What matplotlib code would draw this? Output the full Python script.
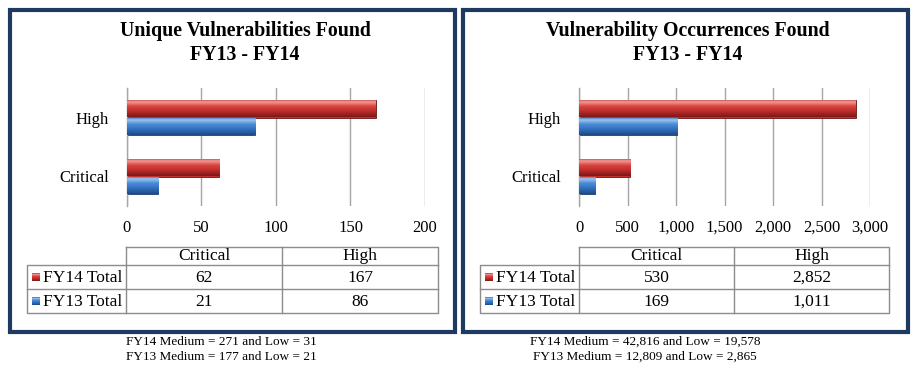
import numpy as np
import matplotlib
matplotlib.use("Agg")
import matplotlib.pyplot as plt
from matplotlib.patches import Rectangle
from matplotlib.colors import to_rgb

plt.rcParams['font.family'] = ['Liberation Serif', 'DejaVu Serif']

categories = ['Critical', 'High']
series = ['FY14 Total', 'FY13 Total']

unique_fy14 = [62, 167]
unique_fy13 = [21, 86]
occ_fy14 = [530, 2852]
occ_fy13 = [169, 1011]

titles = ['Unique Vulnerabilities Found\nFY13 - FY14',
          'Vulnerability Occurrences Found\nFY13 - FY14']
notes = [['FY14 Medium = 271 and Low = 31', 'FY13 Medium = 177 and Low = 21'],
         ['FY14 Medium = 42,816 and Low = 19,578', 'FY13 Medium = 12,809 and Low = 2,865']]
xticks = [[0, 50, 100, 150, 200], [0, 500, 1000, 1500, 2000, 2500, 3000]]

RED = ['#7e1717', '#c0302c', '#d94440', '#f29a97', '#b83330']
BLUE = ['#1d4a86', '#3473c2', '#4a8ad6', '#9cc6f2', '#3166b0']


def gradient_img(stops):
    # bottom -> top
    pos = [0.0, 0.35, 0.6, 0.85, 1.0]
    t = np.linspace(0, 1, 64)
    rgb = np.array([to_rgb(c) for c in stops])
    img = np.stack([np.interp(t, pos, rgb[:, k]) for k in range(3)], axis=1)
    return img.reshape(64, 1, 3)


def shade(ax, bars, stops):
    img = gradient_img(stops)
    for b in bars:
        x0, y0, w, h = b.get_x(), b.get_y(), b.get_width(), b.get_height()
        im = ax.imshow(img, extent=[x0, x0 + w, y0, y0 + h], origin='lower',
                       aspect='auto', zorder=3, interpolation='bilinear')
        im.set_clip_path(b)


def bar_panel(rect, fy14, fy13, ticks, fmt):
    ax = fig.add_axes(rect)
    y = np.arange(len(categories))
    h = 0.29
    r = ax.barh(y + h / 2, fy14, height=h, color=RED[1], edgecolor='#6e1414', linewidth=0.6, zorder=2)
    b = ax.barh(y - h / 2, fy13, height=h, color=BLUE[1], edgecolor='#1b3f70', linewidth=0.6, zorder=2)
    shade(ax, r, RED)
    shade(ax, b, BLUE)
    ax.set_xlim(ticks[0], ticks[-1])
    ax.set_ylim(-0.5, 1.5)
    ax.set_xticks(ticks)
    ax.set_xticklabels([fmt(t) for t in ticks], fontsize=12)
    ax.set_yticks(y)
    ax.set_yticklabels(categories, fontsize=12)
    ax.tick_params(length=0, pad=10, axis='x')
    ax.tick_params(length=0, pad=13, axis='y')
    ax.grid(axis='x', color='#a6a6a6', linewidth=1.0, zorder=0)
    ax.set_axisbelow(True)
    for s in ['top', 'bottom', 'right']:
        ax.spines[s].set_visible(False)
    ax.spines['left'].set_color('#a6a6a6')
    ax.spines['left'].set_linewidth(1.0)
    return ax


def table(ov, cols, top, rows_h, fy14, fy13, fmt):
    x0, x1, x2, x3 = cols
    y0 = top
    y1, y2, y3 = y0 + rows_h[0], y0 + rows_h[0] + rows_h[1], y0 + sum(rows_h)
    lc = '#8c8c8c'
    lw = 1.0
    ov.plot([x1, x3, x3, x0, x0, x3], [y0, y0, y3, y3, y1, y1], color=lc, lw=lw)
    ov.plot([x1, x1], [y0, y3], color=lc, lw=lw)
    ov.plot([x2, x2], [y0, y3], color=lc, lw=lw)
    ov.plot([x0, x3], [y2, y2], color=lc, lw=lw)
    fs = 12.5
    for i, c in enumerate(categories):
        cx = (cols[i + 1] + cols[i + 2]) / 2
        ov.text(cx, (y0 + y1) / 2 + 0.5, c, ha='center', va='center', fontsize=fs)
    for (ya, yb), name, vals, stops in [((y1, y2), series[0], fy14, RED),
                                         ((y2, y3), series[1], fy13, BLUE)]:
        cy = (ya + yb) / 2 + 0.5
        sq = 8
        ov.imshow(gradient_img(stops), extent=[x0 + 5, x0 + 5 + sq, cy + sq / 2, cy - sq / 2],
                  aspect='auto', origin='lower', zorder=3)
        ov.text(x0 + 16, cy, name, ha='left', va='center', fontsize=fs)
        for i, v in enumerate(vals):
            cx = (cols[i + 1] + cols[i + 2]) / 2
            ov.text(cx, cy, fmt(v), ha='center', va='center', fontsize=fs)


fig = plt.figure(figsize=(9.16, 3.70), dpi=100)
W, H = 916, 370

ov = fig.add_axes([0, 0, 1, 1], zorder=-1)
ov.set_xlim(0, W)
ov.set_ylim(H, 0)
ov.axis('off')

border = '#1f3a60'
ov.add_patch(Rectangle((9.5, 9.5), 445, 322, fill=False, edgecolor=border, lw=3))
ov.add_patch(Rectangle((462.5, 9.5), 445, 322, fill=False, edgecolor=border, lw=3))

ov.text(245, 43, titles[0], ha='center', va='center', fontsize=14.3, fontweight='bold', linespacing=1.3)
ov.text(688, 43, titles[1], ha='center', va='center', fontsize=14.3, fontweight='bold', linespacing=1.3)

plain = lambda v: f'{v:g}'
comma = lambda v: f'{v:,.0f}'


def px_rect(l, r, t, b):
    return [l / W, 1 - b / H, (r - l) / W, (b - t) / H]


bar_panel(px_rect(127, 425, 88, 206), unique_fy14, unique_fy13, xticks[0], plain)
bar_panel(px_rect(579, 870, 88, 206), occ_fy14, occ_fy13, xticks[1], comma)

table(ov, [27, 126, 282, 438], 247, [18, 24, 24], unique_fy14, unique_fy13, plain)
table(ov, [480, 579, 734, 889], 247, [18, 24, 24], occ_fy14, occ_fy13, comma)

ov.set_xlim(0, W)
ov.set_ylim(H, 0)

for cx, lines in [(221, notes[0]), (645, notes[1])]:
    ov.text(cx, 342, lines[0], ha='center', va='center', fontsize=9.5)
    ov.text(cx, 357, lines[1], ha='center', va='center', fontsize=9.5)

fig.savefig('out.png', dpi=100)
